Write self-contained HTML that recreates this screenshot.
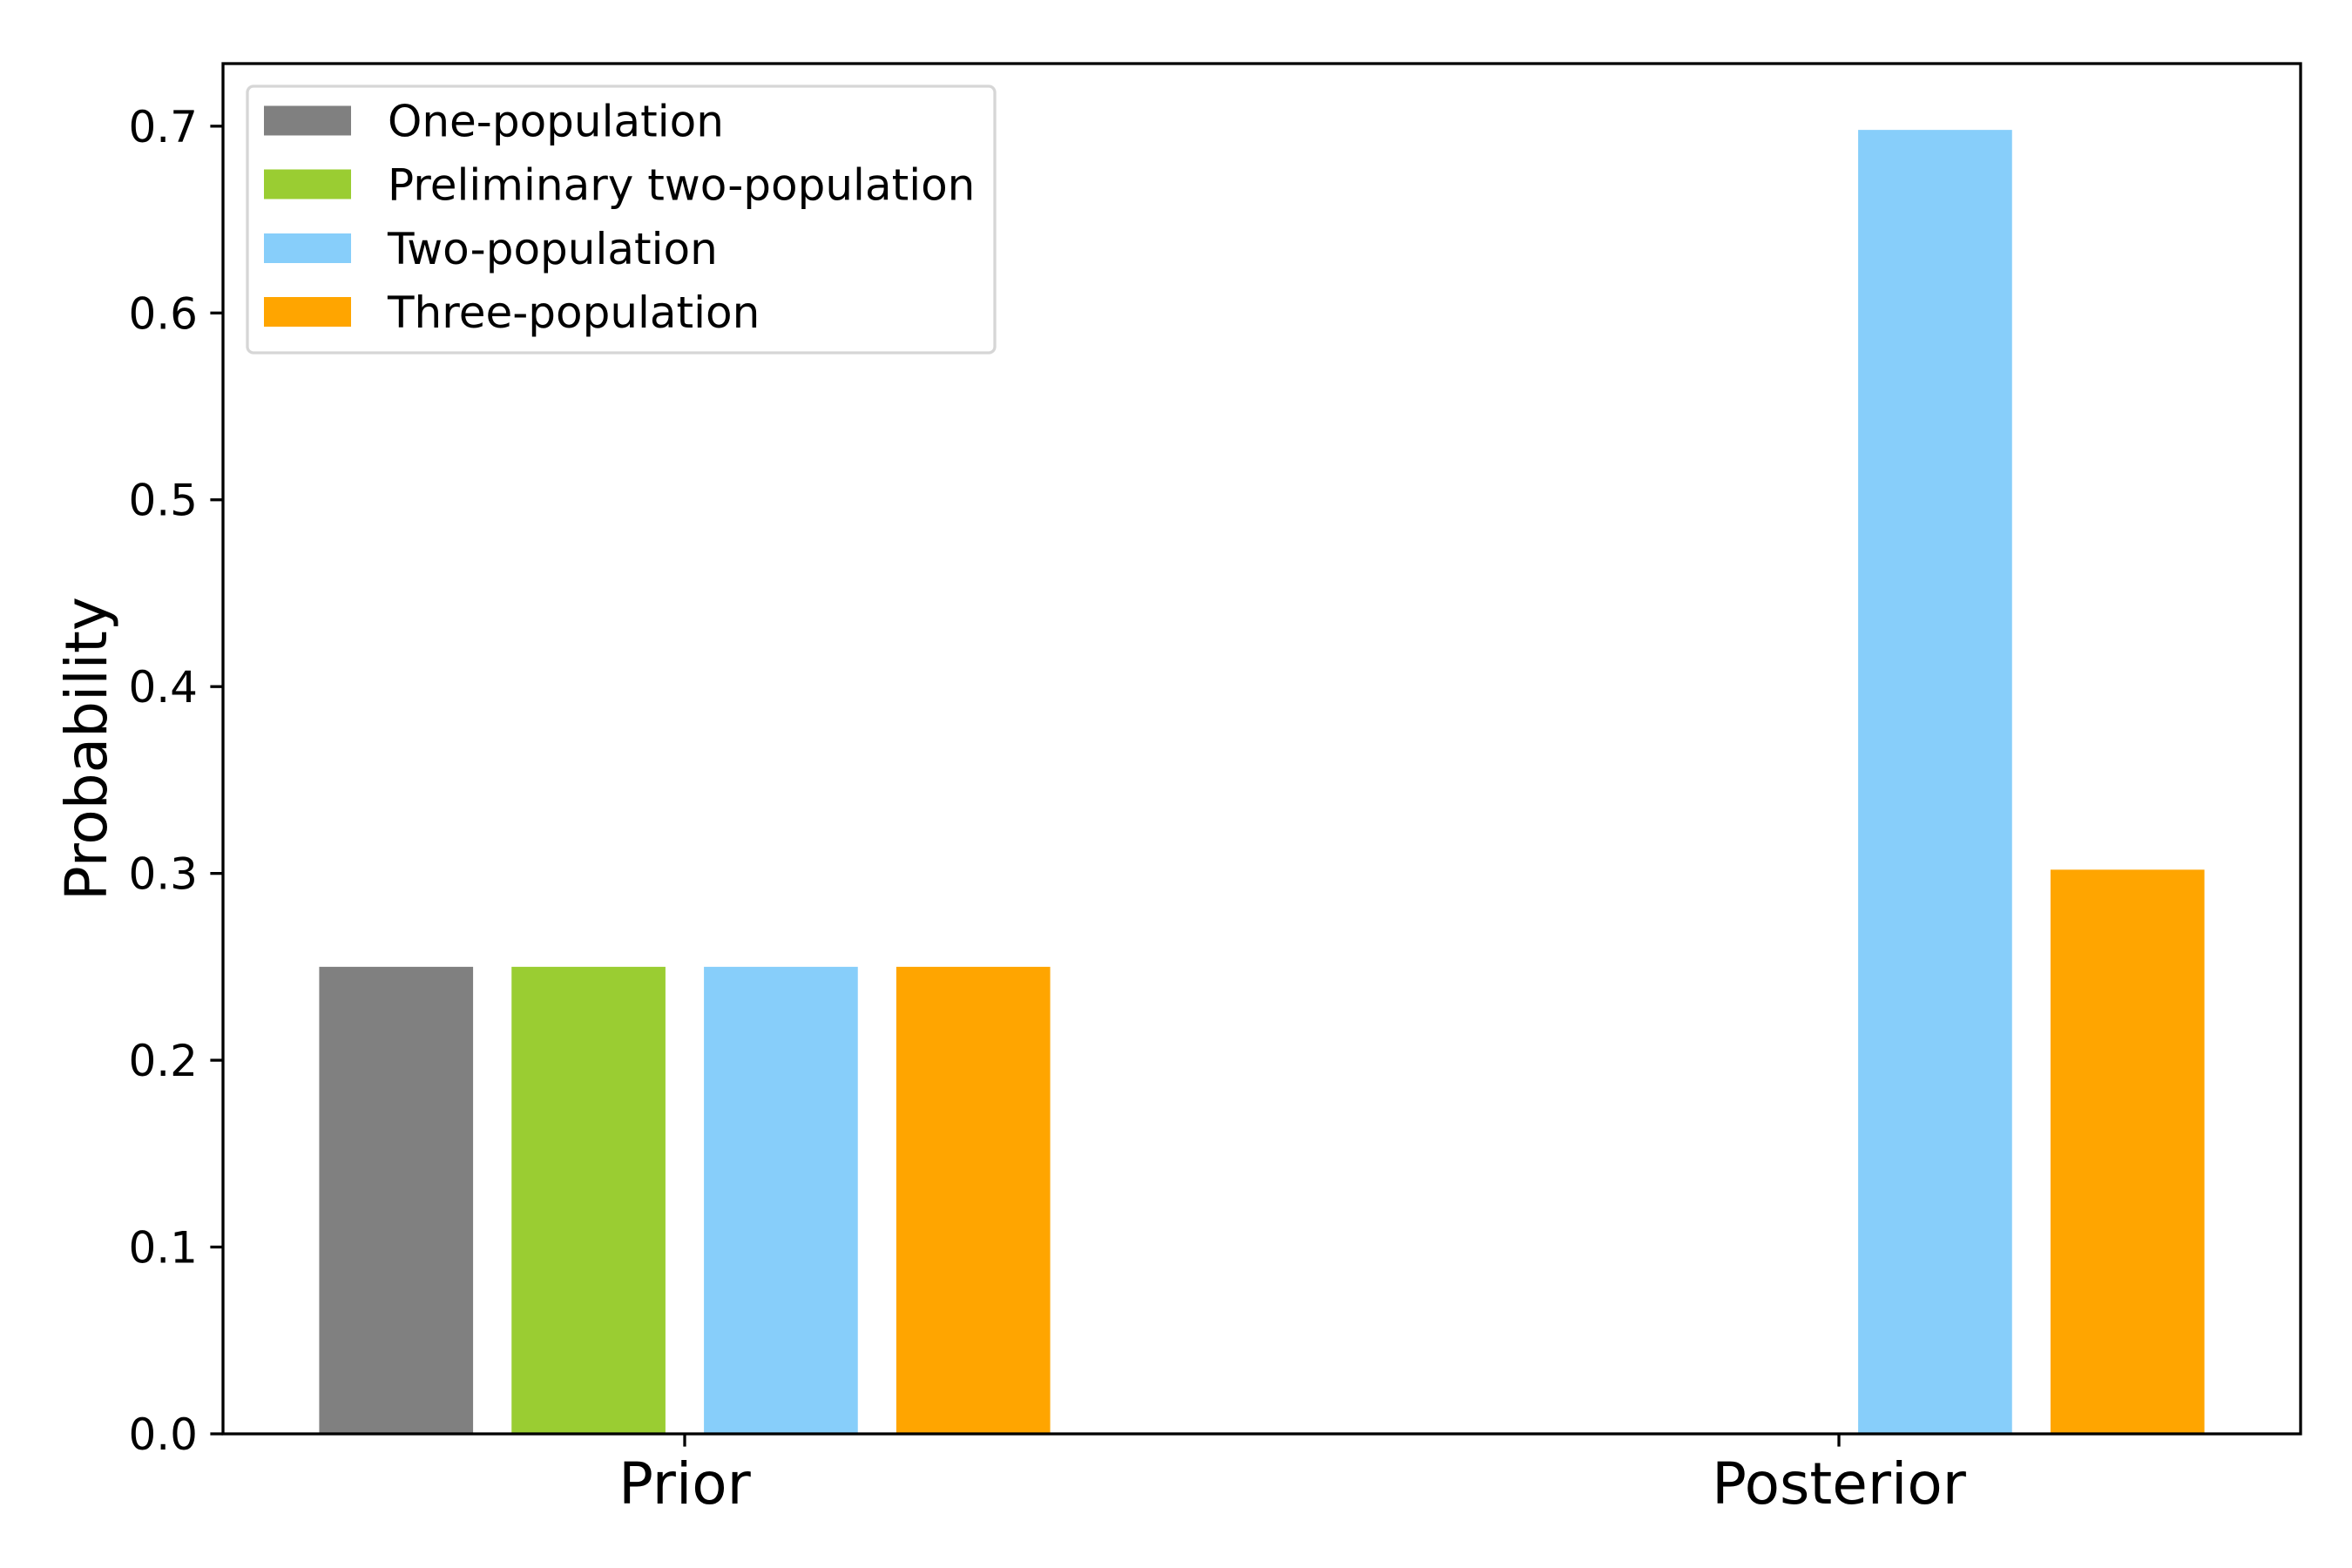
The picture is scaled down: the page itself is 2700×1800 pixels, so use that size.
<!DOCTYPE html>
<html><head><meta charset="utf-8"><style>
html,body{margin:0;padding:0;background:#fff;}
svg{display:block;font-family:"DejaVu Sans","Liberation Sans",sans-serif;}
</style></head><body>
<svg id="chart" width="2700" height="1800" viewBox="0 0 2700 1800" xmlns="http://www.w3.org/2000/svg">
<rect width="2700" height="1800" fill="#fff"/>
<g id="bars"></g>
<g id="axes"></g>
<g id="legend"></g>
</svg>
<script>
const categories = ["Prior", "Posterior"];
const seriesNames = ["One-population", "Preliminary two-population", "Two-population", "Three-population"];
const seriesColors = ["#808080", "#9acd32", "#87cefa", "#ffa500"];
const onePop = [0.25, 0.0];
const prelimTwoPop = [0.25, 0.0];
const twoPop = [0.25, 0.698];
const threePop = [0.25, 0.302];
const yTicks = [0.0, 0.1, 0.2, 0.3, 0.4, 0.5, 0.6, 0.7];
const yTickLabels = ["0.0", "0.1", "0.2", "0.3", "0.4", "0.5", "0.6", "0.7"];

const NS = "http://www.w3.org/2000/svg";
const L = 256, R = 2641, T = 73, B = 1646;
const xMin = -0.4, xMax = 1.4, yMin = 0, yMax = 0.7335;
function xs(v){ return L + (v - xMin) / (xMax - xMin) * (R - L); }
function ys(v){ return B - (v - yMin) / (yMax - yMin) * (B - T); }
function mk(tag, attrs, parent){ const e = document.createElementNS(NS, tag); for (const k in attrs) e.setAttribute(k, attrs[k]); parent.appendChild(e); return e; }

const series = [onePop, prelimTwoPop, twoPop, threePop];
const barW = 0.8 / 6, step = 1 / 6;
const gb = document.getElementById('bars');
series.forEach((vals, si) => {
  vals.forEach((v, ci) => {
    const cx = ci + (si - 1.5) * step;
    const x0 = xs(cx - barW / 2), x1 = xs(cx + barW / 2);
    const r = mk('rect', {x: x0, y: ys(v), width: x1 - x0, height: ys(0) - ys(v), fill: seriesColors[si]}, gb);
    
    
  });
});

const ga = document.getElementById('axes');
const frame = mk('rect', {x: L, y: T, width: R - L, height: B - T, fill: 'none', stroke: '#000', 'stroke-width': 3.3}, ga);


yTicks.forEach((t, i) => {
  const y = ys(t);
  const tk = mk('line', {x1: L - 14.6, x2: L, y1: y, y2: y, stroke: '#000', 'stroke-width': 3.3}, ga);
  
  
  const tx = mk('text', {x: L - 29, y: y + 18, 'text-anchor': 'end', 'font-size': 50, fill: '#000'}, ga);
  tx.textContent = yTickLabels[i];
  
  
});
categories.forEach((c, i) => {
  const x = xs(i);
  const tk = mk('line', {x1: x, x2: x, y1: B, y2: B + 14.6, stroke: '#000', 'stroke-width': 3.3}, ga);
  
  
  const tx = mk('text', {x: x, y: 1726, 'text-anchor': 'middle', 'font-size': 66, fill: '#000'}, ga);
  tx.textContent = c;
  
  
});
const yl = mk('text', {x: 0, y: 0, transform: 'translate(122,' + ((T + B) / 2) + ') rotate(-90)', 'text-anchor': 'middle', 'font-size': 66, fill: '#000'}, ga);
yl.textContent = 'Probability';



const gl = document.getElementById('legend');
const lb = mk('rect', {x: 284, y: 99, width: 858, height: 306, rx: 7, fill: '#fff', 'fill-opacity': 0.8, stroke: '#d6d6d6', 'stroke-width': 3.3}, gl);


const rowY = [138.5, 211.5, 285, 358];
seriesNames.forEach((n, i) => {
  const p = mk('rect', {x: 303, y: rowY[i] - 17, width: 100, height: 34, fill: seriesColors[i]}, gl);
  
  
  const t = mk('text', {x: 445, y: rowY[i] + 18, 'font-size': 50, fill: '#000'}, gl);
  t.textContent = n;
  
  
});
</script>
</body></html>
